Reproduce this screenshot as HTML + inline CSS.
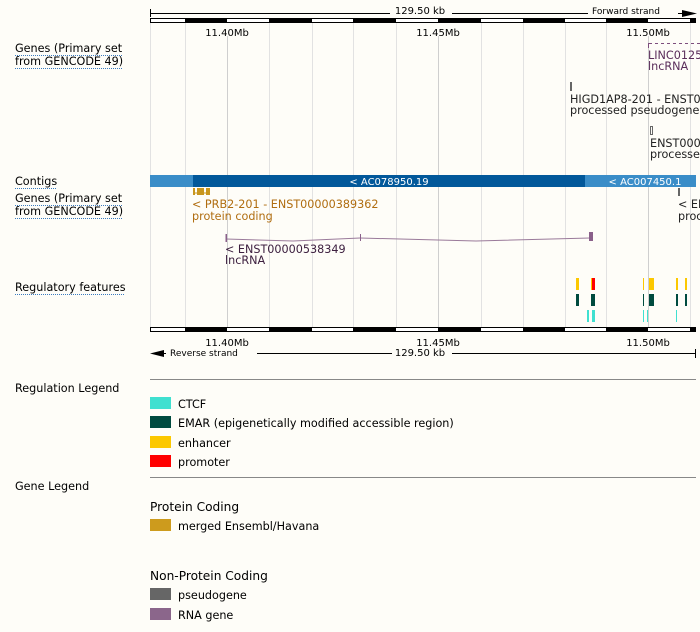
<!DOCTYPE html>
<html><head><meta charset="utf-8"><style>
body{margin:0;background:#fefdf8;}
svg{display:block;font-family:"DejaVu Sans","Liberation Sans",sans-serif;}
</style></head><body>
<svg width="700" height="632" viewBox="0 0 700 632" xmlns="http://www.w3.org/2000/svg">
<rect width="700" height="632" fill="#fefdf8"/>
<g stroke="#e2e2e2" stroke-width="1">
<line x1="185.5" y1="22" x2="185.5" y2="327"/><line x1="269.5" y1="22" x2="269.5" y2="327"/>
<line x1="312.5" y1="22" x2="312.5" y2="327"/><line x1="353.5" y1="22" x2="353.5" y2="327"/>
<line x1="396.5" y1="22" x2="396.5" y2="327"/><line x1="481.5" y1="22" x2="481.5" y2="327"/>
<line x1="523.5" y1="22" x2="523.5" y2="327"/><line x1="565.5" y1="22" x2="565.5" y2="327"/>
<line x1="606.5" y1="22" x2="606.5" y2="327"/><line x1="690.5" y1="22" x2="690.5" y2="327"/>
<line x1="150.5" y1="22" x2="150.5" y2="327"/>
</g>
<g stroke="#cfcfcf" stroke-width="1">
<line x1="227.5" y1="36" x2="227.5" y2="327"/><line x1="438.5" y1="36" x2="438.5" y2="327"/><line x1="648.5" y1="36" x2="648.5" y2="327"/>
</g>
<g stroke="#000" stroke-width="1">
<line x1="150.5" y1="9" x2="150.5" y2="17"/>
<line x1="150" y1="13.5" x2="390" y2="13.5"/>
<line x1="452" y1="13.5" x2="588" y2="13.5"/>
<line x1="678" y1="13.5" x2="688" y2="13.5"/>
</g>
<polygon points="682,10 697,13.5 682,17" fill="#000"/>
<text x="420" y="14" font-size="10" text-anchor="middle">129.50 kb</text>
<text x="626" y="14" font-size="9" text-anchor="middle">Forward strand</text>
<g>
<rect x="150.5" y="18.5" width="545" height="4" fill="#fff" stroke="#000"/>
<g fill="#000">
<rect x="185" y="18" width="42" height="5"/><rect x="269" y="18" width="43" height="5"/>
<rect x="353" y="18" width="43" height="5"/><rect x="438" y="18" width="43" height="5"/>
<rect x="523" y="18" width="42" height="5"/><rect x="606" y="18" width="42" height="5"/>
<rect x="690" y="18" width="6" height="5"/>
</g></g>
<g font-size="10" text-anchor="middle">
<text x="227" y="36">11.40Mb</text><text x="438" y="36">11.45Mb</text><text x="648" y="36">11.50Mb</text>
</g>
<g font-size="11.2" fill="#000">
<text x="15" y="52">Genes (Primary set</text>
<text x="15" y="65">from GENCODE 49)</text>
<text x="15" y="185">Contigs</text>
<text x="15" y="202">Genes (Primary set</text>
<text x="15" y="215">from GENCODE 49)</text>
<text x="15" y="291">Regulatory features</text>
</g>
<g stroke="#3a7bbf" stroke-width="1" stroke-dasharray="1,1">
<line x1="15" y1="55.5" x2="122" y2="55.5"/><line x1="15" y1="68.5" x2="122" y2="68.5"/>
<line x1="15" y1="188.5" x2="57" y2="188.5"/><line x1="15" y1="205.5" x2="122" y2="205.5"/>
<line x1="15" y1="218.5" x2="122" y2="218.5"/><line x1="15" y1="294.5" x2="125" y2="294.5"/>
</g>
<line x1="648.5" y1="43" x2="648.5" y2="48" stroke="#7d4e7d"/>
<line x1="649" y1="43.5" x2="700" y2="43.5" stroke="#7d4e7d" stroke-dasharray="3,3"/>
<text x="648" y="59" font-size="11.2" fill="#5a2d5a">LINC0125</text>
<text x="648" y="70" font-size="11.2" fill="#5a2d5a">lncRNA</text>
<rect x="570" y="82" width="2" height="9" fill="#666"/>
<text x="570" y="103" font-size="11.2" fill="#222">HIGD1AP8-201 - ENST00</text>
<text x="570" y="114" font-size="11.2" fill="#222">processed pseudogene</text>
<rect x="650.5" y="126.5" width="2" height="8" fill="none" stroke="#666"/>
<text x="650" y="147" font-size="11.2" fill="#222">ENST0000</text>
<text x="650" y="158" font-size="11.2" fill="#222">processed</text>
<rect x="150" y="175" width="546" height="12" fill="#3a8dc8"/>
<rect x="193" y="175" width="392" height="12" fill="#02589a"/>
<text x="389" y="185" font-size="10" fill="#fff" text-anchor="middle">&lt; AC078950.19</text>
<text x="645" y="185" font-size="10" fill="#fff" text-anchor="middle">&lt; AC007450.1</text>
<g fill="#c8961e"><rect x="193" y="188" width="2" height="7"/><rect x="197" y="188" width="7" height="7"/><rect x="206" y="188" width="4" height="7"/></g>
<line x1="193" y1="193" x2="210" y2="193" stroke="#c8961e"/>
<text x="192" y="208" font-size="11.2" fill="#b06d10">&lt; PRB2-201 - ENST00000389362</text>
<text x="192" y="220" font-size="11.2" fill="#b06d10">protein coding</text>
<rect x="678" y="188" width="2" height="8" fill="#666"/>
<text x="678" y="208" font-size="11.2" fill="#222">&lt; EN</text>
<text x="678" y="220" font-size="11.2" fill="#222">proc</text>
<polyline points="226,239 293,241 360,238" fill="none" stroke="#9a7a9a"/>
<polyline points="360,238 476,241 590,238" fill="none" stroke="#9a7a9a"/>
<rect x="225.5" y="234" width="1.5" height="8" fill="#8a608a"/>
<rect x="360" y="234" width="1" height="7" fill="#8a608a"/>
<rect x="589" y="232" width="4" height="9" fill="#8a608a"/>
<text x="225" y="253" font-size="11.2" fill="#3d2040">&lt; ENST00000538349</text>
<text x="225" y="264" font-size="11.2" fill="#3d2040">lncRNA</text>
<g fill="#fcc800">
<rect x="576" y="278" width="3" height="12"/><rect x="591" y="278" width="2" height="12"/>
<rect x="643" y="278" width="1" height="12"/><rect x="649" y="278" width="5" height="12"/>
<rect x="676" y="278" width="2" height="12"/><rect x="685" y="278" width="2" height="12"/>
</g>
<rect x="592" y="278" width="3" height="12" fill="#f00"/>
<g fill="#004b3f">
<rect x="576" y="294" width="3" height="12"/><rect x="591" y="294" width="4" height="12"/>
<rect x="643" y="294" width="1" height="12"/><rect x="649" y="294" width="5" height="12"/>
<rect x="676" y="294" width="2" height="12"/><rect x="685" y="294" width="2" height="12"/>
</g>
<g fill="#40e0d0">
<rect x="587" y="310" width="2" height="12"/><rect x="592" y="310" width="3" height="12"/>
<rect x="643" y="310" width="1" height="12"/><rect x="647" y="310" width="1" height="12"/>
<rect x="676" y="310" width="1" height="12"/>
</g>
<rect x="150.5" y="327.5" width="545" height="4" fill="#fff" stroke="#000"/>
<g fill="#000">
<rect x="185" y="327" width="42" height="5"/><rect x="269" y="327" width="43" height="5"/>
<rect x="353" y="327" width="43" height="5"/><rect x="438" y="327" width="43" height="5"/>
<rect x="523" y="327" width="42" height="5"/><rect x="606" y="327" width="42" height="5"/>
<rect x="690" y="327" width="6" height="5"/>
</g>
<g font-size="10" text-anchor="middle">
<text x="227" y="346">11.40Mb</text><text x="438" y="346">11.45Mb</text><text x="648" y="346">11.50Mb</text>
</g>
<polygon points="150,353.5 164,350 164,357" fill="#000"/>
<line x1="160" y1="353.5" x2="166" y2="353.5" stroke="#000"/>
<text x="170" y="356" font-size="9">Reverse strand</text>
<g stroke="#000"><line x1="257" y1="353.5" x2="392" y2="353.5"/><line x1="452" y1="353.5" x2="695" y2="353.5"/><line x1="695.5" y1="349" x2="695.5" y2="358"/></g>
<text x="420" y="356" font-size="10" text-anchor="middle">129.50 kb</text>
<g font-size="11.2" fill="#000">
<text x="15" y="392">Regulation Legend</text>
<text x="15" y="490">Gene Legend</text>
</g>
<line x1="150" y1="379.5" x2="696" y2="379.5" stroke="#888"/>
<line x1="150" y1="477.5" x2="696" y2="477.5" stroke="#888"/>
<rect x="150" y="397" width="21" height="12" fill="#40e0d0"/>
<rect x="150" y="416" width="21" height="12" fill="#004b3f"/>
<rect x="150" y="436" width="21" height="12" fill="#fcc800"/>
<rect x="150" y="455" width="21" height="12" fill="#f00"/>
<g font-size="11.2" fill="#000">
<text x="178" y="408">CTCF</text>
<text x="178" y="427">EMAR (epigenetically modified accessible region)</text>
<text x="178" y="447">enhancer</text>
<text x="178" y="466">promoter</text>
<text x="178" y="530">merged Ensembl/Havana</text>
<text x="178" y="599">pseudogene</text>
<text x="178" y="619">RNA gene</text>
</g>
<text x="150" y="511" font-size="12.2" fill="#000">Protein Coding</text>
<text x="150" y="580" font-size="12.2" fill="#000">Non-Protein Coding</text>
<rect x="150" y="519" width="21" height="12" fill="#cd9b1d"/>
<rect x="150" y="588" width="21" height="12" fill="#666"/>
<rect x="150" y="608" width="21" height="12" fill="#8b668b"/>
</svg>
</body></html>
